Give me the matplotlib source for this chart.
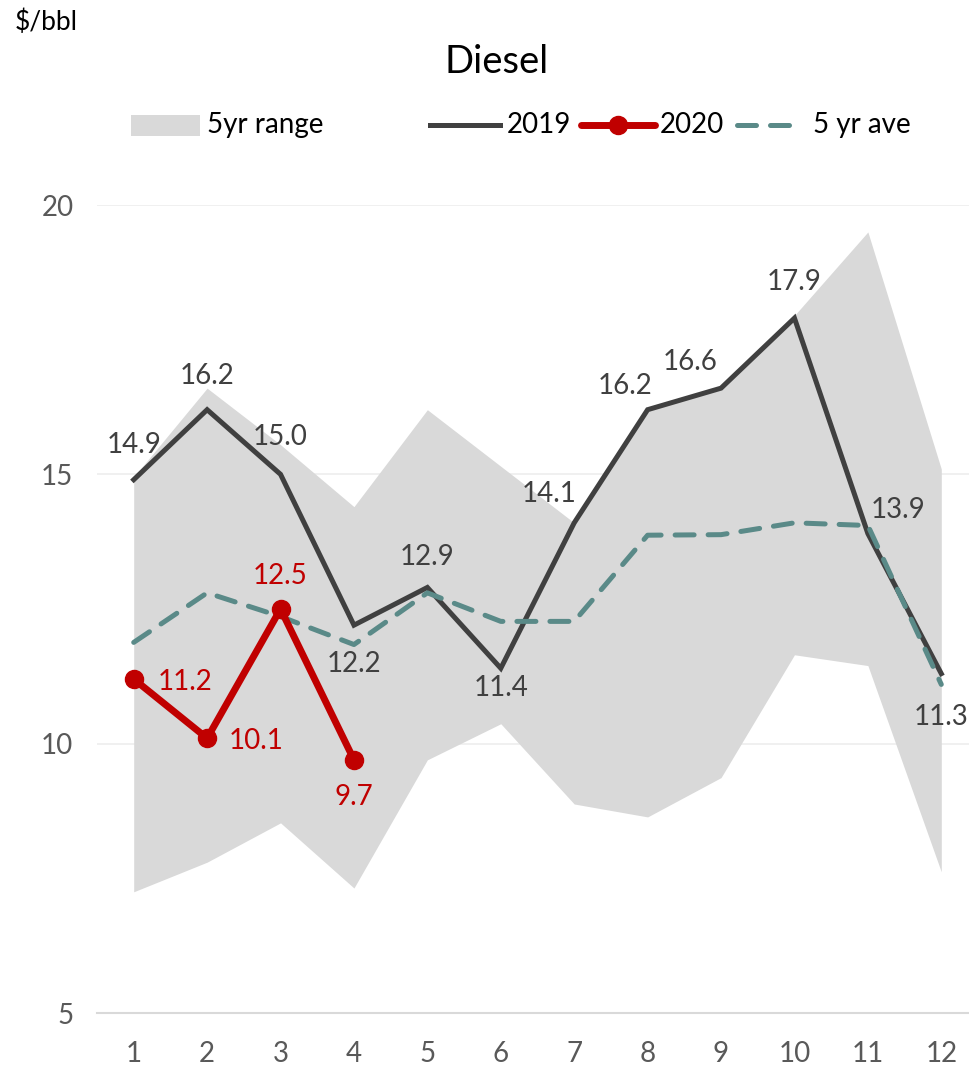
import matplotlib
matplotlib.use("Agg")
import matplotlib.pyplot as plt
from matplotlib.lines import Line2D
from matplotlib.patches import Rectangle

plt.rcParams['font.family'] = ['Lato', 'DejaVu Sans']

months = [1, 2, 3, 4, 5, 6, 7, 8, 9, 10, 11, 12]
range_low = [7.25, 7.8, 8.53, 7.32, 9.7, 10.37, 8.88, 8.64, 9.37, 11.65, 11.45, 7.62]
range_high = [14.95, 16.6, 15.55, 14.4, 16.2, 15.15, 14.1, 16.2, 16.6, 17.95, 19.5, 15.1]
y2019 = [14.9, 16.2, 15.0, 12.2, 12.9, 11.4, 14.1, 16.2, 16.6, 17.9, 13.9, 11.3]
months2020 = [1, 2, 3, 4]
y2020 = [11.2, 10.1, 12.5, 9.7]
ave5 = [11.88, 12.8, 12.36, 11.84, 12.8, 12.27, 12.27, 13.87, 13.88, 14.1, 14.05, 11.1]
yticks = [5, 10, 15, 20]

C19 = '#404040'
C20 = '#C00000'
CAV = '#5A8A88'
CFILL = '#D9D9D9'
FS = 20

W, H = 969, 1070
fig = plt.figure(figsize=(W / 100, H / 100), dpi=100)
ax = fig.add_axes([97 / W, 57 / H, 881 / W, 808 / H])
ax.set_xlim(0.5, 12.5)
ax.set_ylim(5, 20)

ax.fill_between(months, range_low, range_high, color=CFILL, linewidth=0, zorder=1)
ax.plot(months, y2019, color=C19, linewidth=3.6, zorder=3, solid_joinstyle='miter')
ax.plot(months, ave5, color=CAV, linewidth=3.6, linestyle=(0, (3.8, 2.8)),
        dash_capstyle='round', zorder=4)
ax.plot(months2020, y2020, color=C20, linewidth=5, marker='o', markersize=13, zorder=5)

for s in ['top', 'right', 'left']:
    ax.spines[s].set_visible(False)
ax.spines['bottom'].set_color('#D9D9D9')
ax.spines['bottom'].set_linewidth(1.5)
ax.set_yticks(yticks)
ax.set_xticks(months)
ax.set_xticklabels([str(m) for m in months])
ax.yaxis.grid(True, color='#EEEEEE', linewidth=1.2, zorder=0)
ax.set_axisbelow(True)
ax.tick_params(axis='both', length=0, labelsize=FS, colors='#595959')
ax.tick_params(axis='y', pad=17)
ax.tick_params(axis='x', pad=20)

off19 = [(0, 25), (0, 24.5), (0, 26.6), (0, -28), (0, 22), (0, -14),
         (-18, 21), (-16, 17), (-22, 19), (0, 26), (22, 17), (0, -31)]
for x, y, o in zip(months, y2019, off19):
    ax.annotate(f"{y:.1f}", (x, y), xytext=o, textcoords='offset points',
                ha='center', va='center', fontsize=FS, color=C19, zorder=6)

off20 = [(37, -2), (35, -2), (0, 24), (0, -27)]
for x, y, o in zip(months2020, y2020, off20):
    ax.annotate(f"{y:.1f}", (x, y), xytext=o, textcoords='offset points',
                ha='center', va='center', fontsize=FS, color=C20, zorder=6)

# Title and unit label
fig.text(497 / W, 1 - 62 / H, 'Diesel', ha='center', va='center', fontsize=27.5, color='#000000')
fig.text(15 / W, 1 - 22 / H, '$/bbl', ha='left', va='center', fontsize=19, color='#000000')

# Legend (manual)
ly = 1 - 125 / H
fig.add_artist(Rectangle((131 / W, 1 - 136 / H), 69 / W, 21 / H, transform=fig.transFigure,
                         facecolor=CFILL, edgecolor='none'))
fig.text(207 / W, ly, '5yr range', ha='left', va='center', fontsize=FS, color='#000000')
fig.add_artist(Line2D([430 / W, 500 / W], [ly, ly], transform=fig.transFigure,
                      color=C19, linewidth=3.6))
fig.text(507 / W, ly, '2019', ha='left', va='center', fontsize=FS, color='#000000')
fig.add_artist(Line2D([581 / W, 655 / W], [ly, ly], transform=fig.transFigure,
                      color=C20, linewidth=5, solid_capstyle='round'))
fig.add_artist(Line2D([618 / W], [ly], transform=fig.transFigure, color=C20,
                      marker='o', markersize=13, linestyle='none'))
fig.text(660 / W, ly, '2020', ha='left', va='center', fontsize=FS, color='#000000')
fig.add_artist(Line2D([737 / W, 802 / W], [ly, ly], transform=fig.transFigure,
                      color=CAV, linewidth=3.6, linestyle=(0, (3.8, 2.8)),
                      dash_capstyle='round'))
fig.text(813 / W, ly, '5 yr ave', ha='left', va='center', fontsize=FS, color='#000000')

fig.savefig('out.png', dpi=100)
